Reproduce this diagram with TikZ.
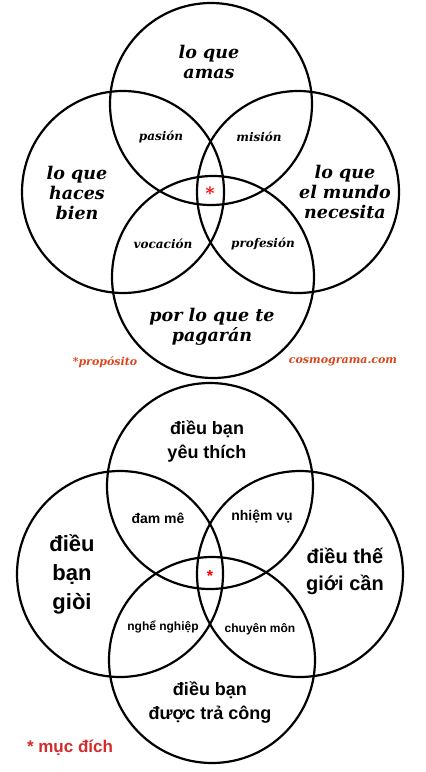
\documentclass[tikz,border=0pt]{standalone}
\usepackage{fontspec}
\newfontfamily\esfont{DejaVu Serif}
\newfontfamily\vifont{Liberation Sans}
\usepackage{tikz}
\usetikzlibrary{positioning}
\definecolor{cosmored}{HTML}{D9461B}
\definecolor{mucred}{HTML}{D42B2B}

\begin{document}
\begin{tikzpicture}[
  x=1pt,y=-1pt,
  ring/.style={draw=black,circle,line width=2.2pt,minimum size=202pt,inner sep=0pt},
  ringvi/.style={ring,minimum size=206pt},
  esbig/.style={align=center,inner sep=0pt,
    font=\esfont\bfseries\itshape\fontsize{17.5}{20}\selectfont},
  essmall/.style={inner sep=0pt,font=\esfont\bfseries\itshape\fontsize{12}{14}\selectfont},
  esnote/.style={inner sep=0pt,text=cosmored,
    font=\esfont\bfseries\itshape\fontsize{11}{13}\selectfont},
  vibig/.style={align=center,inner sep=0pt,font=\vifont\bfseries\fontsize{18}{24}\selectfont},
  vismall/.style={inner sep=0pt,font=\vifont\bfseries\fontsize{14}{16}\selectfont},
  vitiny/.style={inner sep=0pt,font=\vifont\bfseries\fontsize{12}{14}\selectfont},
  star/.style={inner sep=0pt,text=red}
]
  \useasboundingbox[fill=white] (0,0) rectangle (426,772);

  % Spanish diagram
  \node[ring] (amas) at (211,104) {};
  \node[ring] (bien) at (123,192) {};
  \node[ring] (mundo) at (298,192) {};
  \node[ring] (pagar) at (213,277) {};

  \node[esbig] (amastxt) at (209,62) {lo que\\amas};
  \node[esbig] (bientxt) at (77,193) {lo que\\haces\\bien};
  \node[esbig] (mundotxt) at (345,192) {lo que\\el mundo\\necesita};
  \node[esbig] (pagartxt) at (212,327) {por lo que te\\pagarán};
  \node[essmall] (pasion) at (161,137) {pasión};
  \node[essmall] (mision) at (259,137) {misión};
  \node[essmall] (vocacion) at (163,244) {vocación};
  \node[essmall] (profesion) at (263,244) {profesión};
  \node[star,font=\esfont\bfseries\fontsize{17}{17}\selectfont] (propstar) at (210,193) {*};
  \node[esnote] (proposito) at (105,362) {*propósito};
  \node[esnote] (cosmo) at (343,362) {cosmograma.com};

  % Vietnamese diagram
  \node[ringvi] (yeu) at (210,486) {};
  \node[ringvi] (gioi) at (120,574) {};
  \node[ringvi] (can) at (300,574) {};
  \node[ringvi] (cong) at (212,660) {};

  \node[vibig] (yeutxt) at (207,441) {điều bạn\\yêu thích};
  \node[vibig,font=\vifont\bfseries\fontsize{22}{29}\selectfont] (gioitxt) at (72,574) {điều\\bạn\\giòi};
  \node[vibig,font=\vifont\bfseries\fontsize{20}{27}\selectfont] (cantxt) at (345,571) {điều thế\\giới cần};
  \node[vibig] (congtxt) at (210,702) {điều bạn\\được trả công};
  \node[vismall] (damme) at (158,518) {đam mê};
  \node[vismall] (nhiemvu) at (262,517) {nhiệm vụ};
  \node[vitiny] (nghe) at (163,627) {nghể nghiệp};
  \node[vitiny] (chuyen) at (260,629) {chuyên môn};
  \node[star,font=\vifont\bfseries\fontsize{16}{16}\selectfont] (mucstar) at (210,576) {*};
  \node[inner sep=0pt,text=mucred,font=\vifont\bfseries\fontsize{17}{20}\selectfont] (mucdich) at (70,748) {* mục đích};
\end{tikzpicture}
\end{document}
